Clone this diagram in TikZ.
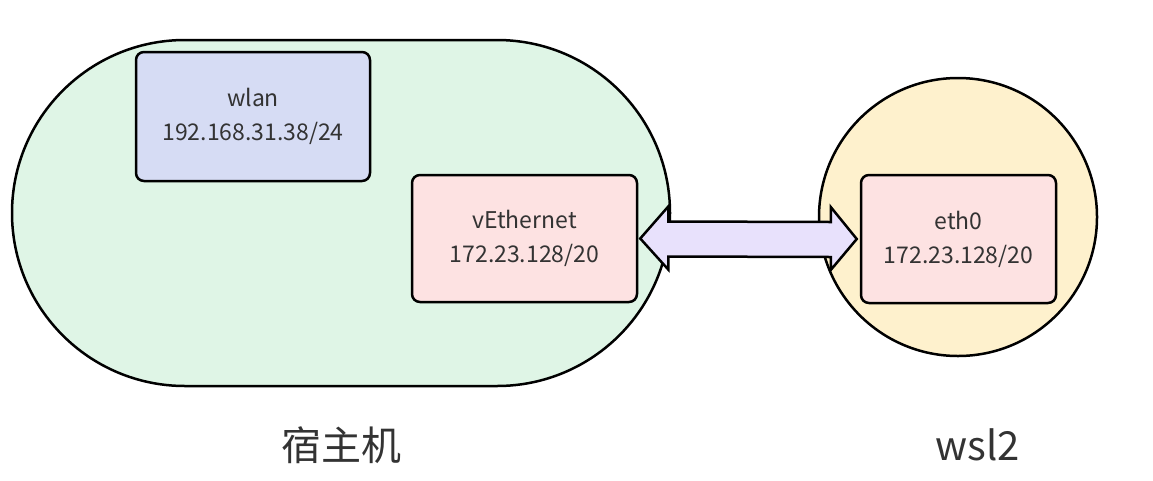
\documentclass[tikz,border=0pt]{standalone}
\usepackage{fontspec}
\setmainfont{Noto Sans CJK SC}
\usetikzlibrary{calc}
\definecolor{hostfill}{HTML}{DFF5E6}
\definecolor{wlanfill}{HTML}{D6DCF4}
\definecolor{pinkfill}{HTML}{FDE2E2}
\definecolor{wslfill}{HTML}{FEF1CD}
\definecolor{arrfill}{HTML}{E8E1FC}
\definecolor{txt}{HTML}{333333}
\tikzset{
  outline/.style={draw=black, line width=2.5pt},
  ifbox/.style={outline, rounded corners=8pt, align=center, text=txt,
    font=\fontsize{23}{34}\selectfont, inner sep=0pt},
  biglabel/.style={text=txt, font=\fontsize{40}{44}\selectfont, inner sep=0pt},
  arrowbody/.style={outline, fill=arrfill, line join=miter}
}
\begin{document}
\begin{tikzpicture}[x=1pt,y=-1pt]
\useasboundingbox (0,0) rectangle (1153,480);
\draw[outline, fill=hostfill, rounded corners=173pt] (12,40) rectangle (670,386);
\draw[outline, fill=wslfill] (958,217) circle[radius=139pt];
\node[ifbox, fill=wlanfill, minimum width=234pt, minimum height=129pt] (wlan) at (253,116.5) {wlan\\192.168.31.38/24};
\node[ifbox, fill=pinkfill, minimum width=225pt, minimum height=127pt] (veth) at (524.5,238.5) {vEthernet\\172.23.128/20};
\node[ifbox, fill=pinkfill, minimum width=195pt, minimum height=128pt] (eth) at (958.5,239) {eth0\\172.23.128/20};
\coordinate (aL) at ($(veth.east)+(2,0)$);
\coordinate (aR) at ($(eth.west)+(-3,0)$);
\draw[arrowbody] (aL) -- ++(28,-32) -- ++(0,15)
  -- ($(aR)+(-26,-17)$) -- ++(0,-15) -- (aR) -- ++(-26,31) -- ++(0,-13)
  -- ($(aL)+(28,18)$) -- ++(0,13) -- cycle;
\node[biglabel] (host) at (341,445) {宿主机};
\node[biglabel] (wsl) at (978,445) {wsl2};
\end{tikzpicture}
\end{document}
